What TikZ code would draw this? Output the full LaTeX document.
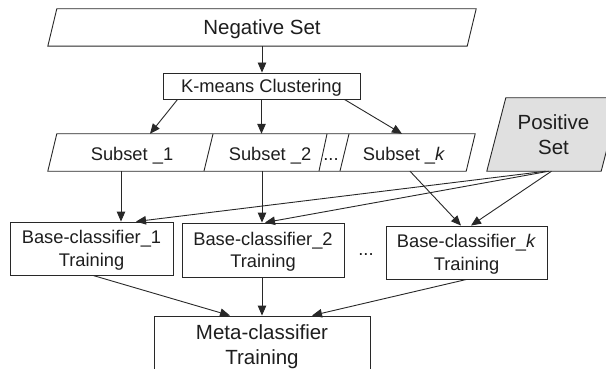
\documentclass[tikz,border=0pt]{standalone}
\usepackage{fontspec}
\setmainfont{Liberation Sans}
\usetikzlibrary{arrows.meta,backgrounds}
\definecolor{ln}{RGB}{40,40,40}
\definecolor{txtc}{RGB}{30,30,30}
\definecolor{pfill}{RGB}{224,224,224}
\newcommand\paragram[3][]{%
  \path[edge,#1] ([xshift=#3]#2.north west) -- ([xshift=#3]#2.north east)
    -- ([xshift=-#3]#2.south east) -- ([xshift=-#3]#2.south west) -- cycle;}
\tikzset{
  lbl/.style={font=\fontsize{18.3}{22.5}\selectfont, text=txtc, align=center, inner sep=0pt, text depth=0pt},
  big/.style={font=\fontsize{20.5}{25}\selectfont, text=txtc, align=center, inner sep=0pt, text depth=0pt},
  box/.style={draw=ln, line width=0.9pt},
  edge/.style={draw=ln, line width=0.9pt, line join=miter},
  arr/.style={draw=ln, line width=0.9pt, -{Triangle[length=10pt,width=8.5pt]}},
}
\begin{document}
\begin{tikzpicture}[x=1pt,y=-1pt]
\useasboundingbox (0,0) rectangle (606,369);
\clip (0,0) rectangle (606,369);
% nodes
\node[big, minimum width=419pt, minimum height=37pt] (neg) at (262,27.5) {Negative Set};
\node[lbl, box, minimum width=197pt, minimum height=26pt] (km) at (261.5,86) {K-means Clustering};
\node[minimum width=418pt, minimum height=37pt, inner sep=0pt] (subrow) at (261.5,152.5) {};
\node[lbl, minimum height=37pt] (sub1) at (132,154) {Subset \_1};
\node[lbl, minimum height=37pt] (sub2) at (270,154) {Subset \_2};
\node[lbl, anchor=base] (dots1) at (331,160.5) {...};
\node[lbl, minimum height=37pt] (subk) at (404,154) {Subset \_\textit{k}};
\node[big, minimum width=114pt, minimum height=73pt] (pos) at (553.5,134.5) {Positive\\Set};
\node[lbl, box, minimum width=163pt, minimum height=53pt] (b1) at (91.5,248.5) {Base-classifier\_1\\Training};
\node[lbl, box, minimum width=162pt, minimum height=54pt] (b2) at (263,250) {Base-classifier\_2\\Training};
\node[lbl, box, minimum width=161pt, minimum height=53pt] (bk) at (466.5,252.5) {Base-classifier\_\textit{k}\\Training};
\node[lbl, anchor=base] (dots2) at (366,255.5) {...};
\node[big, box, minimum width=216pt, minimum height=57.4pt] (meta) at (262,344.7) {Meta-classifier\\Training};
% parallelograms
\begin{scope}[on background layer]
  \fill[white] (0,0) rectangle (606,369);
  \paragram[fill=pfill]{pos}{9.5pt}
\end{scope}
\paragram{neg}{4.5pt}
\paragram{subrow}{4.5pt}
\path[edge] (213,134) -- (204,171);
\path[edge] (327,134) -- (319,171);
\path[edge] (349,134) -- (340,171);
% connectors
\draw[arr] (neg.south) -- (neg.south |- km.north);
\draw[arr] ([xshift=15pt]km.south west) -- ([xshift=18pt,yshift=1.5pt]sub1.north);
\draw[arr] (km.south) -- ([yshift=1.5pt]km.south |- sub2.north);
\draw[arr] ([xshift=-16pt]km.south east) -- ([xshift=-2pt,yshift=1.5pt]subk.north);
\draw[arr] ([xshift=-11pt,yshift=1.5pt]sub1.south) -- ([xshift=-11pt]sub1.south |- b1.north);
\draw[arr] ([xshift=-8pt,yshift=1.5pt]sub2.south) -- ([xshift=-8pt]sub2.south |- b2.north);
\draw[arr] ([xshift=6pt,yshift=1.5pt]subk.south) -- ([xshift=-5.5pt]bk.north);
\draw[arr] ([xshift=-7.5pt]pos.south) -- ([xshift=44.5pt]b1.north);
\draw[arr] ([xshift=-4.5pt]pos.south) -- ([xshift=2pt]b2.north);
\draw[arr] ([xshift=-2pt]pos.south) -- ([xshift=4.5pt]bk.north);
\draw[arr] ([xshift=1.5pt]b1.south) -- ([xshift=-32pt]meta.north);
\draw[arr] ([xshift=-1pt]b2.south) -- ([xshift=-1pt]b2.south |- meta.north);
\draw[arr] (bk.south) -- ([xshift=50pt]meta.north);
\end{tikzpicture}
\end{document}
